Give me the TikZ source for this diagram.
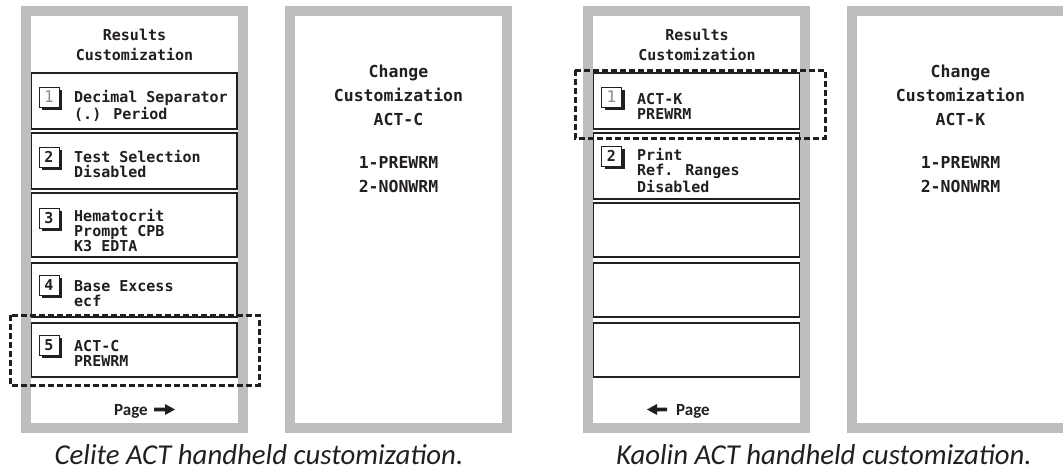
\documentclass[tikz,border=0pt]{standalone}
\usepackage{fontspec}
\usetikzlibrary{shadows}
\newfontfamily\lcdfont{DejaVu Sans Mono}
\newfontfamily\calfont{Carlito}
\definecolor{panelgray}{HTML}{BCBEC0}
\definecolor{ink}{HTML}{231F20}
\definecolor{keygray}{HTML}{8A8C8E}
\tikzset{
  panel/.style={draw=panelgray, line width=10pt, fill=white},
  rowbox/.style={draw=ink, line width=1.6pt},
  selbox/.style={draw=ink, line width=3pt, dash pattern=on 6pt off 3pt},
  keyb/.style={draw=ink, line width=1pt, fill=white, minimum width=20pt, minimum height=20pt, inner sep=0pt,
    font=\lcdfont\bfseries\fontsize{15}{15}\selectfont, text=ink,
    drop shadow={shadow xshift=3pt, shadow yshift=-3pt, fill=ink, opacity=1}},
  keylight/.style={keyb, font=\lcdfont\fontsize{16}{16}\selectfont, text=keygray},
  item/.style={anchor=base west, inner sep=0pt, align=left, text=ink,
    font=\lcdfont\bfseries\fontsize{15}{15}\selectfont},
  title/.style={anchor=base, inner sep=0pt, align=center, text=ink,
    font=\lcdfont\bfseries\fontsize{15}{20}\selectfont},
  change/.style={anchor=base, inner sep=0pt, align=center, text=ink,
    font=\lcdfont\bfseries\fontsize{16.5}{24}\selectfont},
  pagetxt/.style={anchor=base west, inner sep=0pt, text=ink, font=\calfont\bfseries\fontsize{17}{17}\selectfont},
  caption/.style={anchor=base, inner sep=0pt, text=ink, font=\calfont\itshape\fontsize{28.8}{30}\selectfont},
  arrowfill/.style={fill=ink, draw=none}
}
\begin{document}
\begin{tikzpicture}[x=1pt, y=-1pt]
\useasboundingbox (0,0) rectangle (1063,472);
\clip (0,0) rectangle (1063,472);

% ---------- Celite: panel 1 ----------
\draw[panel] (26,11) rectangle (243,428);
\node[title] (t1) at (134.5,60) {Results\\Customization};
\draw[rowbox] (31.5,73) rectangle (237,129);
\draw[rowbox] (31.5,133) rectangle (237,189);
\draw[rowbox] (31.5,193) rectangle (237,257);
\draw[rowbox] (31.5,263) rectangle (237,317);
\draw[rowbox] (31.5,323) rectangle (237,377);
\node[keylight] (c1k) at (49,97) {1};
\node[keyb] (c2k) at (49,157) {2};
\node[keyb] (c3k) at (49,218) {3};
\node[keyb] (c4k) at (49,285) {4};
\node[keyb] (c5k) at (49,345) {5};
\node[item] (c1t) at (74,119) {Decimal Separator\\(.) Period};
\node[item] (c2t) at (74,177) {Test Selection\\Disabled};
\node[item] (c3t) at (74,251) {Hematocrit\\Prompt CPB\\K3 EDTA};
\node[item] (c4t) at (74,306) {Base Excess\\ecf};
\node[item] (c5t) at (74,366) {ACT-C\\PREWRM};
\draw[selbox] (10,315) rectangle (259,385);
\node[pagetxt] (cpage) at (114,415) {Page};
\fill[arrowfill] (154,407.7) -- (165,407.7) -- (165,404) -- (175,409.5) -- (165,415) -- (165,411.3) -- (154,411.3) -- cycle;

% ---------- Celite: panel 2 ----------
\draw[panel] (290,11) rectangle (507,428);
\node[change] (cc) at (398.5,192) {Change\\Customization\\ACT-C\\[19pt]1-PREWRM\\2-NONWRM};

% ---------- Kaolin: panel 3 ----------
\draw[panel] (588,11) rectangle (805,428);
\node[title] (t3) at (697,60) {Results\\Customization};
\draw[rowbox] (593.5,73) rectangle (799.5,129);
\draw[rowbox] (593.5,133) rectangle (799.5,199);
\draw[rowbox] (593.5,203) rectangle (799.5,257);
\draw[rowbox] (593.5,263) rectangle (799.5,317);
\draw[rowbox] (593.5,323) rectangle (799.5,377);
\node[keylight] (k1k) at (611.5,97) {1};
\node[keyb] (k2k) at (611.5,156) {2};
\node[item] (k1t) at (637,119) {ACT-K\\PREWRM};
\node[item] (k2t) at (637,192) {Print\\Ref. Ranges\\Disabled};
\draw[selbox] (575,70) rectangle (825,138);
\fill[arrowfill] (667,407.7) -- (657,407.7) -- (657,404) -- (647,409.5) -- (657,415) -- (657,411.3) -- (667,411.3) -- cycle;
\node[pagetxt] (kpage) at (676,415) {Page};

% ---------- Kaolin: panel 4 ----------
\draw[panel] (852,11) rectangle (1069,428);
\node[change] (kc) at (960.5,192) {Change\\Customization\\ACT-K\\[19pt]1-PREWRM\\2-NONWRM};

% ---------- captions ----------
\node[caption] (cap1) at (259,464) {Celite ACT handheld customization.};
\node[caption] (cap2) at (824,464) {Kaolin ACT handheld customization.};
\end{tikzpicture}
\end{document}
